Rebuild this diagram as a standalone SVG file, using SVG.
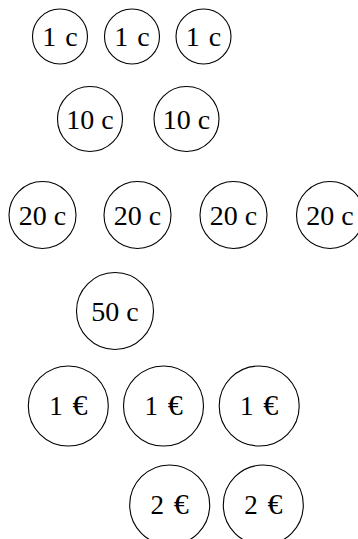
<svg xmlns="http://www.w3.org/2000/svg" width="358" height="539" viewBox="0 0 358 539">
<style>
circle{fill:#fff;stroke:#000;stroke-width:1.1}
text{font-family:"Liberation Serif","Times New Roman",serif;font-size:28px;text-anchor:middle;fill:#000}
.s{word-spacing:2px}
.e{font-size:27px;word-spacing:3px}
.eu{font-size:30px}
</style>
<g id="c1a"><circle cx="60" cy="36.5" r="27.5"/><text class="s" x="60" y="46">1 c</text></g>
<g id="c1b"><circle cx="132" cy="36.5" r="27.5"/><text class="s" x="132" y="46">1 c</text></g>
<g id="c1c"><circle cx="203.5" cy="36.5" r="27.5"/><text class="s" x="203.5" y="46">1 c</text></g>
<g id="c10a"><circle cx="90" cy="119" r="32.5"/><text x="90" y="128.5">10 c</text></g>
<g id="c10b"><circle cx="186.5" cy="119" r="32.5"/><text x="186.5" y="128.5">10 c</text></g>
<g id="c20a"><circle cx="42.5" cy="215" r="33.5"/><text x="42.5" y="224.5">20 c</text></g>
<g id="c20b"><circle cx="137.5" cy="215" r="33.5"/><text x="137.5" y="224.5">20 c</text></g>
<g id="c20c"><circle cx="233.5" cy="215" r="33.5"/><text x="233.5" y="224.5">20 c</text></g>
<g id="c20d"><circle cx="330" cy="215" r="33.5"/><text x="330" y="224.5">20 c</text></g>
<g id="c50"><circle cx="115" cy="311" r="38.5"/><text x="115" y="320.5">50 c</text></g>
<g id="e1a"><circle cx="68.3" cy="406" r="40"/><text class="e" x="68.3" y="415">1 <tspan class="eu">€</tspan></text></g>
<g id="e1b"><circle cx="163.5" cy="406" r="40"/><text class="e" x="163.5" y="415">1 <tspan class="eu">€</tspan></text></g>
<g id="e1c"><circle cx="259.2" cy="406" r="40"/><text class="e" x="259.2" y="415">1 <tspan class="eu">€</tspan></text></g>
<g id="e2a"><circle cx="169.7" cy="505" r="40"/><text class="e" x="169.7" y="514">2 <tspan class="eu">€</tspan></text></g>
<g id="e2b"><circle cx="263.3" cy="505" r="40"/><text class="e" x="263.3" y="514">2 <tspan class="eu">€</tspan></text></g>
<g id="connectors"/>
</svg>
